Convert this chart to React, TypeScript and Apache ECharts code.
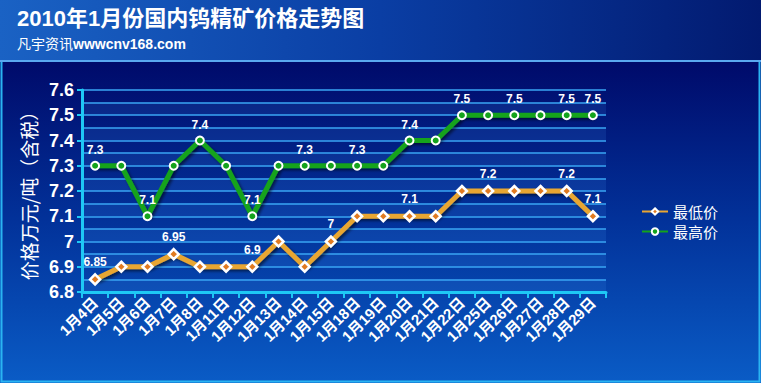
import React, { useEffect, useRef } from "react";
import * as echarts from "echarts";

const categories = [
  "1月4日", "1月5日", "1月6日", "1月7日", "1月8日", "1月11日", "1月12日", "1月13日", "1月14日", "1月15日",
  "1月18日", "1月19日", "1月20日", "1月21日", "1月22日", "1月25日", "1月26日", "1月27日", "1月28日", "1月29日",
];
const lowPrices = [6.85, 6.9, 6.9, 6.95, 6.9, 6.9, 6.9, 7.0, 6.9, 7.0, 7.1, 7.1, 7.1, 7.1, 7.2, 7.2, 7.2, 7.2, 7.2, 7.1];
const highPrices = [7.3, 7.3, 7.1, 7.3, 7.4, 7.3, 7.1, 7.3, 7.3, 7.3, 7.3, 7.3, 7.4, 7.4, 7.5, 7.5, 7.5, 7.5, 7.5, 7.5];
const lowLabelIdx = [0, 3, 6, 9, 12, 15, 18, 19];
const highLabelIdx = [0, 2, 4, 6, 8, 10, 12, 14, 16, 18, 19];
const yTickLabels = ["6.8", "6.9", "7", "7.1", "7.2", "7.3", "7.4", "7.5", "7.6"];

const titleText = "2010年1月份国内钨精矿价格走势图";
const subtitleCn = "凡宇资讯";
const subtitleEn = "wwwcnv168.com";
const yName = "价格万元/吨（含税）";

export default function App() {
  const ref = useRef<HTMLDivElement>(null);
  useEffect(() => {
    if (!ref.current) return;
    const chart = echarts.init(ref.current, null, { renderer: "svg" });
    const shadow = { shadowColor: "rgba(0,0,0,0.55)", shadowBlur: 3, shadowOffsetX: 2, shadowOffsetY: 2 };
    const labelStyle = {
      color: "#ffffff",
      fontWeight: "bold" as const,
      fontSize: 12,
      fontFamily: "Liberation Sans, Arial, sans-serif",
      position: "top" as const,
      distance: 5,
    };
    const mk = (vals: number[], idx: number[]) =>
      vals.map((v, i) => ({ value: v, label: { show: idx.includes(i) } }));

    chart.setOption({
      animation: false,
      backgroundColor: "transparent",
      graphic: [
        {
          type: "rect",
          z: -10,
          shape: { x: 0, y: 0, width: 761, height: 61 },
          style: {
            fill: new echarts.graphic.LinearGradient(0, 0, 1, 0, [
              { offset: 0, color: "#1a62c4" },
              { offset: 0.5, color: "#0a3ea4" },
              { offset: 1, color: "#021a70" },
            ]),
          },
        },
        {
          type: "rect",
          z: -10,
          shape: { x: 0, y: 61, width: 761, height: 322 },
          style: {
            fill: new echarts.graphic.LinearGradient(0, 0, 0, 1, [
              { offset: 0, color: "#000a6a" },
              { offset: 0.5, color: "#02329a" },
              { offset: 1, color: "#0a5cc6" },
            ]),
          },
        },
        {
          type: "rect",
          z: -9,
          shape: { x: 1.5, y: 61, width: 758, height: 320.5 },
          style: { fill: "none", stroke: "#2ab4f2", lineWidth: 2 },
        },
        {
          type: "line",
          z: -8,
          shape: { x1: 0, y1: 61, x2: 761, y2: 61 },
          style: { stroke: "#5aa8f0", lineWidth: 2 },
        },
        {
          type: "text",
          left: 17,
          top: 7,
          style: {
            text: titleText,
            fill: "#ffffff",
            font: "bold 22px 'Liberation Sans', Arial, 'Noto Sans CJK SC', sans-serif",
          },
        },
        {
          type: "text",
          left: 17,
          top: 36,
          style: {
            text: subtitleCn,
            fill: "#ffffff",
            font: "14px 'Noto Sans CJK SC', sans-serif",
          },
        },
        {
          type: "text",
          left: 73,
          top: 37,
          style: {
            text: subtitleEn,
            fill: "#ffffff",
            font: "bold 14px 'Liberation Sans', Arial, sans-serif",
          },
        },
      ],
      legend: {
        orient: "vertical",
        left: 636,
        top: 199,
        itemWidth: 26,
        itemHeight: 8,
        itemGap: 5,
        textStyle: { color: "#ffffff", fontSize: 15, fontFamily: "'Noto Sans CJK SC', sans-serif" },
        data: ["最低价", "最高价"],
      },
      grid: { left: 82, right: 155, top: 90, bottom: 91 },
      xAxis: {
        type: "category",
        data: categories,
        boundaryGap: true,
        axisLine: { lineStyle: { color: "#1ec8f5", width: 3 } },
        axisTick: { show: true, interval: 0, length: 6, lineStyle: { color: "#1ec8f5", width: 2 } },
        axisLabel: {
          interval: 0,
          rotate: 45,
          margin: 8,
          color: "#ffffff",
          fontWeight: "bold",
          fontSize: 15,
          fontFamily: "'Liberation Sans', Arial, 'Noto Sans CJK SC', sans-serif",
        },
        splitLine: { show: false },
      },
      yAxis: [
        {
          type: "value",
          min: 6.8,
          max: 7.6,
          interval: 0.1,
          name: yName,
          nameLocation: "middle",
          nameRotate: 90,
          nameGap: 44,
          nameTextStyle: { color: "#ffffff", fontSize: 19, fontFamily: "'Noto Sans CJK SC', sans-serif" },
          axisLine: { show: true, lineStyle: { color: "#1ec8f5", width: 3 } },
          axisTick: { show: true, length: 5, lineStyle: { color: "#1ec8f5", width: 2 } },
          axisLabel: {
            color: "#ffffff",
            fontWeight: "bold",
            fontSize: 18,
            margin: 8,
            fontFamily: "'Liberation Sans', Arial, sans-serif",
            formatter: (v: number) => {
              const i = Math.round((v - 6.8) / 0.1);
              return yTickLabels[i] ?? "";
            },
          },
          splitLine: { show: false },
          z: 3,
        },
        {
          type: "value",
          min: 6.8,
          max: 7.6,
          interval: 0.05,
          position: "left",
          axisLine: { show: false },
          axisTick: { show: false },
          axisLabel: { show: false },
          splitLine: { show: true, lineStyle: { color: "#3aa6f4", width: 1.5 } },
          splitArea: { show: true, areaStyle: { color: ["rgba(80,160,255,0.13)", "rgba(0,0,0,0)"] } },
          z: 0,
        },
      ],
      series: [
        {
          name: "最低价",
          type: "line",
          yAxisIndex: 0,
          data: mk(lowPrices, lowLabelIdx),
          symbol: "diamond",
          symbolSize: 10,
          lineStyle: { color: "#e8a632", width: 5, ...shadow },
          itemStyle: { color: "#e07a20", borderColor: "#ffffff", borderWidth: 2.5 },
          label: labelStyle,
          z: 5,
        },
        {
          name: "最高价",
          type: "line",
          yAxisIndex: 0,
          data: mk(highPrices, highLabelIdx),
          symbol: "circle",
          symbolSize: 8,
          lineStyle: { color: "#14a31c", width: 5, ...shadow },
          itemStyle: { color: "#14a31c", borderColor: "#ffffff", borderWidth: 2 },
          label: labelStyle,
          z: 5,
        },
      ],
    });
    return () => chart.dispose();
  }, []);
  return <div ref={ref} style={{ width: 761, height: 383, position: "absolute", left: 0, top: 0 }} />;
}
